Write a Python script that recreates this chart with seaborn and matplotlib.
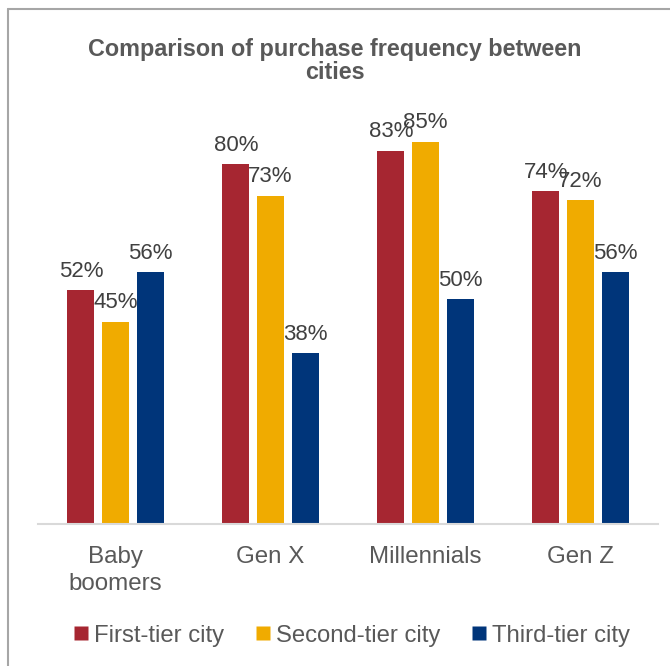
import pandas as pd
import matplotlib
matplotlib.use("Agg")
import matplotlib.pyplot as plt
import seaborn as sns
from matplotlib.lines import Line2D

# data
generations = ["Baby\nboomers", "Gen X", "Millennials", "Gen Z"]
city_tiers = ["First-tier city", "Second-tier city", "Third-tier city"]
first_tier = [52, 80, 83, 74]
second_tier = [45, 73, 85, 72]
third_tier = [56, 38, 50, 56]
tier_colors = ["#A62631", "#F0AB00", "#00357A"]

df = pd.DataFrame({
    "generation": generations * 3,
    "tier": [t for t in city_tiers for _ in generations],
    "value": first_tier + second_tier + third_tier,
})

sns.set_theme(style="white")
plt.rcParams["font.family"] = ["Liberation Sans", "DejaVu Sans"]

fig = plt.figure(figsize=(6.7, 6.66), dpi=100)
ax = fig.add_axes([38 / 670, 142 / 666, 620 / 670, 450 / 666])

sns.barplot(data=df, x="generation", y="value", hue="tier", order=generations,
            hue_order=city_tiers, palette=tier_colors, width=0.668, gap=0.217,
            saturation=1, edgecolor="none", ax=ax, legend=True)

for cont in ax.containers:
    ax.bar_label(cont, labels=[f"{v:.0f}%" for v in cont.datavalues],
                 padding=6, fontsize=16, color="#404040")

ax.set_ylim(0, 100)
ax.set_xlim(-0.5, 3.5)
ax.set_xlabel("")
ax.set_ylabel("")
ax.set_yticks([])
for side in ["left", "right", "top"]:
    ax.spines[side].set_visible(False)
ax.spines["bottom"].set_color("#D9D9D9")
ax.spines["bottom"].set_linewidth(1.5)
ax.tick_params(axis="x", length=0, pad=16, labelsize=17.4, labelcolor="#595959")
for lbl in ax.get_xticklabels():
    lbl.set_linespacing(1.3)

handles = [Line2D([], [], marker="s", linestyle="none", markersize=10,
                  markerfacecolor=c, markeredgecolor="none") for c in tier_colors]
ax.legend(handles, city_tiers, loc="center", bbox_to_anchor=(0.505, -0.248),
          ncol=3, frameon=False, fontsize=17.2, labelcolor="#595959",
          handlelength=0.7, handletextpad=0.2, columnspacing=1.26)

fig.suptitle("Comparison of purchase frequency between\ncities", y=0.943,
             fontsize=16.8, fontweight="bold", color="#595959", linespacing=1.0)

# frame: only the left and top edges are visible in the reference
fig.add_artist(Line2D([8 / 670, 8 / 670], [0, 1 - 9 / 666], transform=fig.transFigure,
                      color="#A6A6A6", linewidth=1.5))
fig.add_artist(Line2D([8 / 670, 1], [1 - 9 / 666, 1 - 9 / 666], transform=fig.transFigure,
                      color="#A6A6A6", linewidth=1.5))

fig.savefig("out.png", dpi=100, facecolor="white")
